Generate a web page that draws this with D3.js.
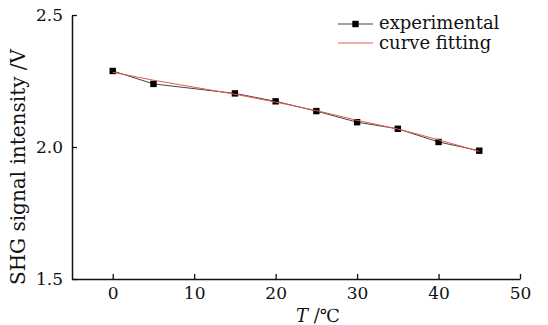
<!DOCTYPE html>
<html lang="en">
<head>
<meta charset="UTF-8">
<title>SHG signal vs T</title>
<script src="https://cdn.jsdelivr.net/npm/d3@7"></script>
<style>
  body{margin:0;background:#fff;}
  text{font-family:"DejaVu Serif",serif;fill:#111;}
</style>
</head>
<body>
<script>
    // data
    var temps=[0,5,15,20,25,30,35,40,45];
    var measured=[2.288,2.239,2.203,2.173,2.136,2.094,2.069,2.019,1.986];
    var fitted=[2.283,2.253,2.200,2.170,2.138,2.101,2.068,2.027,1.983];
    var xTicks=[0,10,20,30,40,50];
    var yTicks=[1.5,2.0,2.5];
    var seriesNames=["experimental","curve fitting"];

    var width=548,height=325;
    var margin={left:72,right:28,top:15,bottom:46};

    var svg=d3.select("body").append("svg")
        .attr("width",width)
        .attr("height",height);

    var x=d3.scaleLinear().domain([-5,50]).range([margin.left,width-margin.right]);
    var y=d3.scaleLinear().domain([1.5,2.5]).range([height-margin.bottom,margin.top]);

    // axes, ticks pointing inward
    var xAxis=svg.append("g")
        .attr("transform","translate(0,"+(height-margin.bottom)+")")
        .call(d3.axisBottom(x).tickValues(xTicks).tickSizeInner(-5).tickSizeOuter(0).tickPadding(8));
    var yAxis=svg.append("g")
        .attr("transform","translate("+margin.left+",0)")
        .call(d3.axisLeft(y).tickValues(yTicks).tickFormat(d3.format(".1f")).tickSizeInner(-5).tickSizeOuter(0).tickPadding(9));

    [xAxis,yAxis].forEach(function(a){
        a.select(".domain").attr("stroke","#111").attr("stroke-width",1.5);
        a.selectAll(".tick line").attr("stroke","#111").attr("stroke-width",1.3);
        a.selectAll(".tick text").attr("font-size",17).attr("font-family","DejaVu Serif").attr("fill","#111");
    });

    // axis titles
    svg.append("text")
        .attr("transform","translate(25,167) rotate(-90)")
        .attr("text-anchor","middle")
        .attr("font-size",20)
        .text("SHG signal intensity /V");

    var xt=svg.append("text")
        .attr("x",x(25.2))
        .attr("y",322)
        .attr("text-anchor","middle")
        .attr("font-size",18);
    xt.append("tspan").attr("font-style","italic").text("T");
    xt.append("tspan").text(" /℃");

    var pts=temps.map(function(t,i){return {t:t,m:measured[i],f:fitted[i]};});

    var line=d3.line().x(function(d){return x(d.t);});

    svg.append("path")
        .datum(pts)
        .attr("fill","none")
        .attr("stroke","#444")
        .attr("stroke-width",1)
        .attr("d",line.y(function(d){return y(d.m);}));

    svg.selectAll("rect.pt").data(pts).enter().append("rect")
        .attr("class","pt")
        .attr("x",function(d){return x(d.t)-3.2;})
        .attr("y",function(d){return y(d.m)-3.2;})
        .attr("width",6.4)
        .attr("height",6.4)
        .attr("fill","#000");

    svg.append("path")
        .datum(pts)
        .attr("fill","none")
        .attr("stroke","#e8574f")
        .attr("stroke-width",1)
        .attr("d",d3.line().curve(d3.curveMonotoneX).x(function(d){return x(d.t);}).y(function(d){return y(d.f);}));

    // legend
    var lg=svg.append("g").attr("transform","translate(338,24)");
    lg.append("line").attr("x1",0).attr("x2",35).attr("y1",0).attr("y2",0).attr("stroke","#444").attr("stroke-width",1);
    lg.append("rect").attr("x",14.3).attr("y",-3.2).attr("width",6.4).attr("height",6.4).attr("fill","#000");
    lg.append("text").attr("x",41).attr("y",5).attr("font-size",18).text(seriesNames[0]);
    lg.append("line").attr("x1",0).attr("x2",35).attr("y1",19).attr("y2",19).attr("stroke","#e8574f").attr("stroke-width",1);
    lg.append("text").attr("x",41).attr("y",25).attr("font-size",18).text(seriesNames[1]);
</script>
</body>
</html>
